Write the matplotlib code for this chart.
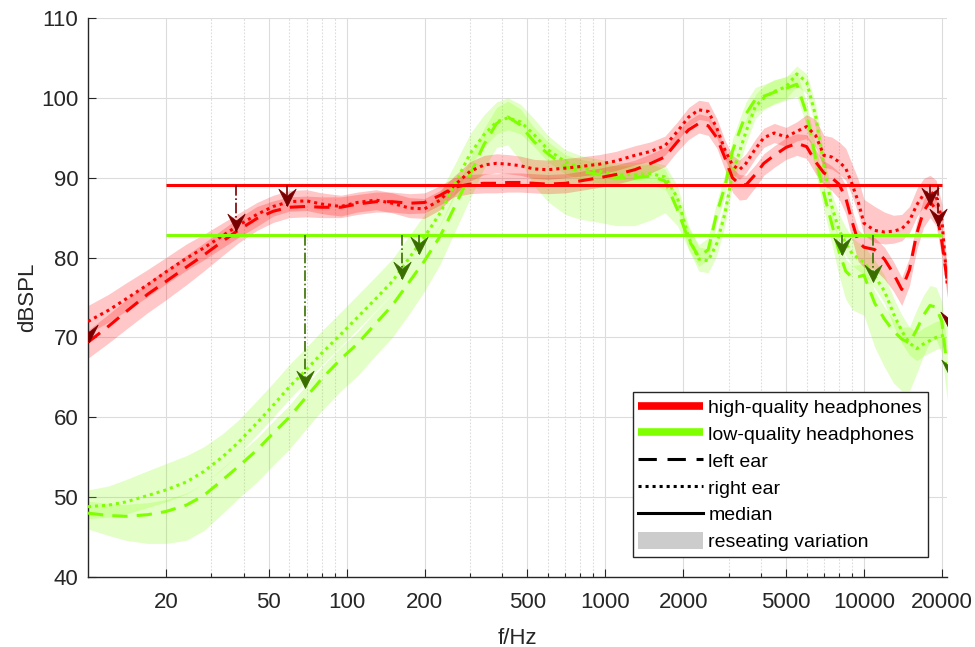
import numpy as np
import matplotlib
matplotlib.use("Agg")
import matplotlib.pyplot as plt
from matplotlib.lines import Line2D
from matplotlib.patches import Patch
from matplotlib.path import Path
from matplotlib.ticker import FixedLocator, NullFormatter

plt.rcParams['font.family'] = ['Liberation Sans', 'DejaVu Sans']

# ---------------- data ----------------
freq = [10, 12, 14, 17, 20, 24, 28, 33, 38, 45, 52, 60, 70, 80, 95,
        110, 130, 150, 175, 200, 230, 260, 300, 340, 380, 420, 470, 530, 600, 700,
        800, 950, 1100, 1300, 1500, 1700, 1900, 2100, 2300, 2500, 2700, 2900, 3100, 3300, 3500,
        3800, 4100, 4500, 5000, 5500, 6000, 6500, 7000, 7500, 8000, 8500, 9000, 9500, 10000, 11000,
        12000, 13000, 14000, 15000, 16000, 17000, 18000, 19000, 20000, 21000]

# high-quality headphones
hq_left = [69.4, 71.4, 73.2, 75.4, 77.0, 78.8, 80.3, 82.0, 83.4, 84.9, 85.8, 86.3, 86.4, 86.3, 86.3,
           86.7, 87.0, 87.0, 86.8, 86.9, 87.8, 88.8, 89.2, 89.3, 89.3, 89.4, 89.4, 89.3, 89.2, 89.3,
           89.6, 90.0, 90.4, 91.0, 91.8, 92.6, 94.5, 96.0, 96.8, 96.5, 95.0, 92.5, 90.0, 89.2, 89.1,
           90.4, 91.8, 92.8, 93.8, 94.3, 93.9, 92.0, 90.6, 90.0, 89.2, 87.5, 84.5, 82.0, 81.3, 81.0,
           79.8, 78.0, 76.0, 78.5, 83.0, 85.8, 87.0, 86.0, 82.0, 77.0]
hq_right = [72.0, 73.4, 74.8, 76.6, 78.2, 79.9, 81.2, 82.7, 84.0, 85.4, 86.4, 87.0, 87.1, 86.7, 86.4,
            86.9, 87.2, 86.8, 86.2, 86.1, 87.2, 89.0, 90.8, 91.6, 91.8, 91.7, 91.5, 91.1, 91.0, 91.2,
            91.4, 91.7, 92.1, 92.8, 93.3, 94.0, 95.8, 97.6, 98.5, 98.3, 96.2, 93.5, 91.6, 91.0, 91.8,
            93.6, 95.0, 95.6, 95.1, 95.8, 96.4, 95.3, 92.8, 92.6, 92.0, 91.2, 89.2, 87.0, 84.3, 83.4,
            83.2, 83.3, 83.6, 84.6, 86.6, 87.9, 88.3, 87.7, 84.8, 76.5]
# low-quality headphones
lq_left = [48.0, 47.7, 47.6, 47.8, 48.2, 49.0, 50.2, 52.1, 53.8, 55.9, 58.0, 60.0, 62.6, 64.8, 67.3,
           69.2, 71.8, 74.0, 77.0, 79.6, 82.7, 86.2, 90.4, 94.2, 96.8, 97.6, 96.6, 94.5, 93.0, 91.4,
           90.8, 90.4, 90.0, 90.0, 90.2, 89.6, 86.0, 82.2, 80.1, 81.0, 85.6, 88.9, 93.3, 95.8, 98.0,
           99.8, 100.2, 100.7, 101.2, 101.7, 98.0, 92.5, 88.0, 84.3, 80.8, 78.3, 77.5, 77.6, 77.8, 74.3,
           72.3, 70.8, 69.8, 69.3, 71.0, 72.8, 74.0, 73.8, 72.0, 66.0]
lq_right = [48.8, 49.0, 49.4, 50.2, 50.9, 51.9, 53.2, 55.0, 56.8, 59.3, 61.5, 63.8, 66.0, 68.0, 70.4,
            72.5, 74.9, 77.0, 80.0, 82.6, 85.6, 89.0, 93.0, 95.4, 97.0, 97.5, 97.0, 95.4, 93.5, 92.0,
            91.3, 90.8, 90.4, 90.4, 90.5, 90.1, 87.5, 82.5, 79.8, 79.6, 81.8, 85.5, 90.5, 93.2, 95.8,
            98.9, 100.0, 100.8, 101.4, 103.0, 102.0, 97.8, 91.4, 86.5, 83.5, 81.8, 80.5, 79.9, 79.4, 77.7,
            75.8, 73.0, 70.8, 69.3, 68.6, 69.2, 69.6, 70.0, 70.2, 70.4]

# reseating variation (dB below / above each curve)
hq_left_lo = [2.0, 2.1, 2.2, 2.3, 2.3, 2.2, 2.0, 1.8, 1.6, 1.5, 1.4, 1.3, 1.3, 1.3, 1.3,
              1.3, 1.3, 1.3, 1.3, 1.3, 1.2, 1.2, 1.2, 1.2, 1.2, 1.2, 1.2, 1.2, 1.2, 1.2,
              1.2, 1.2, 1.2, 1.2, 1.2, 1.2, 1.2, 1.2, 1.2, 1.2, 1.3, 1.5, 1.8, 2.0, 1.8,
              1.6, 1.5, 1.5, 1.5, 1.5, 1.5, 1.5, 1.5, 1.6, 1.8, 2.0, 2.2, 2.5, 2.5, 2.5,
              2.5, 2.2, 2.0, 2.0, 2.0, 2.0, 2.0, 2.0, 2.0, 2.0]
hq_left_hi = [1.5, 1.5, 1.5, 1.5, 1.5, 1.5, 1.5, 1.5, 1.5, 1.5, 1.3, 1.3, 1.3, 1.3, 1.3,
              1.2, 1.2, 1.2, 1.2, 1.2, 1.2, 1.2, 1.2, 1.2, 1.2, 1.2, 1.2, 1.2, 1.2, 1.2,
              1.2, 1.2, 1.2, 1.2, 1.2, 1.2, 1.2, 1.2, 1.2, 1.2, 1.2, 1.2, 1.2, 1.2, 1.2,
              1.2, 1.2, 1.2, 1.2, 1.2, 1.5, 1.5, 1.5, 1.5, 1.5, 1.5, 1.5, 1.5, 1.5, 1.5,
              1.5, 1.5, 1.5, 1.5, 1.5, 1.5, 1.5, 1.5, 1.5, 1.5]
hq_right_lo = [1.5, 1.5, 1.5, 1.5, 1.5, 1.5, 1.5, 1.5, 1.5, 1.5, 1.2, 1.2, 1.2, 1.2, 1.2,
               1.2, 1.2, 1.2, 1.2, 1.2, 1.2, 1.2, 1.2, 1.2, 1.2, 1.2, 1.2, 1.2, 1.2, 1.2,
               1.2, 1.2, 1.2, 1.2, 1.2, 1.2, 1.2, 1.2, 1.2, 1.2, 1.2, 1.2, 1.2, 1.2, 1.2,
               1.2, 1.2, 1.2, 1.2, 1.2, 1.5, 1.5, 1.5, 1.5, 1.5, 1.5, 1.5, 1.5, 1.5, 1.5,
               1.5, 1.5, 1.5, 1.5, 1.5, 1.5, 1.5, 1.5, 1.5, 1.5]
hq_right_hi = [2.0, 2.0, 2.0, 1.9, 1.8, 1.8, 1.7, 1.6, 1.5, 1.5, 1.4, 1.4, 1.4, 1.4, 1.4,
               1.3, 1.3, 1.3, 1.3, 1.3, 1.2, 1.2, 1.2, 1.2, 1.2, 1.2, 1.2, 1.2, 1.2, 1.2,
               1.2, 1.2, 1.2, 1.2, 1.2, 1.2, 1.2, 1.2, 1.2, 1.2, 1.2, 1.2, 1.2, 1.2, 1.2,
               1.2, 1.2, 1.2, 1.2, 1.2, 1.5, 2.0, 2.5, 2.5, 2.5, 2.5, 2.5, 2.8, 3.0, 3.0,
               2.5, 2.0, 1.8, 1.8, 2.0, 2.0, 2.0, 2.0, 2.0, 2.0]
lq_left_lo = [2.0, 2.5, 3.0, 3.6, 4.0, 4.4, 4.4, 4.2, 4.0, 4.0, 4.0, 4.0, 4.0, 4.0, 4.0,
              4.0, 4.0, 4.0, 4.0, 3.8, 3.5, 3.2, 3.0, 3.0, 3.0, 3.5, 4.5, 5.5, 6.0, 6.0,
              6.0, 6.0, 6.0, 6.0, 5.5, 4.0, 2.0, 1.2, 1.2, 1.2, 1.2, 1.2, 1.2, 1.2, 1.2,
              1.5, 1.5, 1.5, 1.5, 1.5, 1.5, 1.8, 2.0, 2.5, 3.0, 3.5, 4.0, 4.5, 5.0, 5.5,
              6.0, 6.5, 6.5, 6.0, 5.5, 5.0, 4.5, 4.0, 4.0, 4.0]
lq_left_hi = [1.5, 1.5, 1.5, 1.5, 1.5, 1.5, 1.5, 1.5, 1.5, 1.5, 1.5, 1.5, 1.5, 1.5, 1.5,
              1.5, 1.5, 1.5, 1.5, 1.5, 1.5, 1.8, 2.0, 2.0, 2.0, 2.0, 2.0, 1.8, 1.5, 1.5,
              1.5, 1.5, 1.5, 1.5, 1.5, 1.5, 1.5, 1.5, 1.5, 1.5, 1.5, 1.5, 1.5, 1.5, 1.5,
              1.5, 1.5, 1.5, 1.5, 1.5, 1.5, 1.5, 1.5, 1.5, 1.5, 1.5, 1.5, 1.5, 1.5, 1.5,
              1.5, 1.5, 1.5, 2.0, 2.5, 2.5, 2.5, 2.5, 2.5, 2.5]
lq_right_lo = [1.5, 1.5, 1.5, 1.5, 1.5, 1.5, 1.5, 1.5, 1.5, 1.5, 1.5, 1.5, 1.5, 1.5, 1.5,
               1.5, 1.5, 1.5, 1.5, 1.5, 1.5, 1.5, 1.5, 1.5, 1.5, 1.5, 1.5, 1.5, 1.5, 1.5,
               1.5, 1.5, 1.5, 1.5, 1.5, 1.5, 1.5, 1.5, 1.5, 1.5, 1.5, 1.5, 1.5, 1.5, 1.5,
               1.5, 1.5, 1.5, 1.5, 1.5, 1.5, 1.5, 1.5, 1.5, 1.5, 1.5, 1.5, 1.5, 1.5, 1.5,
               1.5, 1.5, 1.5, 1.5, 1.5, 1.5, 1.5, 1.5, 1.5, 1.5]
lq_right_hi = [2.1, 2.4, 2.8, 3.1, 3.3, 3.3, 3.1, 2.9, 2.8, 2.8, 2.8, 2.8, 2.8, 2.8, 2.8,
               2.8, 2.8, 2.8, 2.8, 2.8, 2.6, 2.5, 2.5, 2.5, 2.5, 2.5, 2.2, 2.0, 1.8, 1.5,
               1.5, 1.5, 1.5, 1.5, 1.5, 1.5, 1.5, 1.5, 1.5, 1.5, 1.5, 1.5, 1.5, 1.5, 1.5,
               1.5, 1.5, 1.5, 1.2, 1.0, 1.0, 1.5, 1.5, 1.5, 2.0, 2.0, 2.0, 2.0, 2.0, 2.0,
               2.0, 2.0, 2.0, 2.0, 2.0, 2.0, 2.0, 2.0, 2.0, 2.0]

# medians (from 20 Hz to 20 kHz)
median_range = [20, 20000]
hq_median = 89.1
lq_median = 82.8

# arrows: frequency, start level, end level
hq_arrow_f = [10.05, 37.3, 59.0, 18000, 19400, 21300]
hq_arrow_start = [69.5, 89.1, 89.1, 89.1, 89.1, 71.0]
hq_arrow_end = [69.4, 83.3, 86.5, 86.6, 84.0, 71.0]
lq_arrow_f = [68.8, 164, 191, 8200, 10800, 21600]
lq_arrow_start = [82.8, 82.8, 82.8, 82.8, 82.8, 65.0]
lq_arrow_end = [63.7, 77.3, 80.4, 80.3, 76.9, 65.0]

major_ticks = [20, 50, 100, 200, 500, 1000, 2000, 5000, 10000, 20000]
tick_labels = ['20', '50', '100', '200', '500', '1000', '2000', '5000', '10000', '20000']
minor_ticks = [30, 40, 60, 70, 80, 90, 300, 400, 600, 700, 800, 900,
               3000, 4000, 6000, 7000, 8000, 9000]
y_ticks = [40, 50, 60, 70, 80, 90, 100, 110]

# ---------------- style ----------------
RED = '#ff0000'
GREEN = '#80ff00'
DRED = '#7a0000'
DGREEN = '#3a6e00'
AX = '#262626'

fig = plt.figure(figsize=(9.75, 6.47), dpi=100)
ax = fig.add_axes([88 / 975, 70 / 647, (947.3 - 88) / 975, 559 / 647])
ax.set_xscale('log')
ax.set_xlim(10, 21000)
ax.set_ylim(40, 110)

F = np.array(freq)

def band(vals, lo, hi, color, alpha):
    v = np.array(vals)
    ax.fill_between(F, v - np.array(lo), v + np.array(hi), color=color, alpha=alpha, lw=0, zorder=2)

band(lq_left, lq_left_lo, lq_left_hi, GREEN, 0.22)
band(lq_right, lq_right_lo, lq_right_hi, GREEN, 0.22)
band(hq_left, hq_left_lo, hq_left_hi, RED, 0.22)
band(hq_right, hq_right_lo, hq_right_hi, RED, 0.22)

DASH = (5, 3)
DOT = (1, 1.3)
lw = 2.2
ax.plot(F, lq_left, color=GREEN, lw=lw, dashes=DASH, zorder=3)
ax.plot(F, lq_right, color=GREEN, lw=lw, dashes=DOT, zorder=3)
ax.plot(F, hq_left, color=RED, lw=lw, dashes=DASH, zorder=3)
ax.plot(F, hq_right, color=RED, lw=lw, dashes=DOT, zorder=3)

ax.plot(median_range, [hq_median, hq_median], color=RED, lw=2.2, zorder=4, solid_capstyle='butt')
ax.plot(median_range, [lq_median, lq_median], color=GREEN, lw=2.2, zorder=4, solid_capstyle='butt')

head = Path([(0, 0), (-0.5, 1.0), (0, 0.6), (0.5, 1.0), (0, 0)],
            [Path.MOVETO, Path.LINETO, Path.LINETO, Path.LINETO, Path.CLOSEPOLY])

def arrows(fs, y0s, y1s, color):
    for f, y0, y1 in zip(fs, y0s, y1s):
        if y0 != y1:
            ax.plot([f, f], [y0, y1], color=color, lw=1.2, ls='-.', zorder=5)
        ax.plot([f], [y1], marker=head, ms=25, color=color, mec=color, mew=0.5, zorder=6, ls='none')

arrows(hq_arrow_f, hq_arrow_start, hq_arrow_end, DRED)
arrows(lq_arrow_f, lq_arrow_start, lq_arrow_end, DGREEN)

# axes styling
for s in ['top', 'right']:
    ax.spines[s].set_visible(False)
for s in ['left', 'bottom']:
    ax.spines[s].set_color(AX)
    ax.spines[s].set_linewidth(1.0)

ax.xaxis.set_major_locator(FixedLocator(major_ticks))
ax.set_xticklabels(tick_labels)
ax.xaxis.set_minor_locator(FixedLocator(minor_ticks))
ax.xaxis.set_minor_formatter(NullFormatter())
ax.set_yticks(y_ticks)
ax.tick_params(axis='both', which='major', direction='in', length=6, width=0.8,
               color=AX, labelcolor=AX, labelsize=16)
ax.tick_params(axis='x', which='major', pad=10.5)
ax.tick_params(axis='y', which='major', pad=7)
ax.tick_params(axis='x', which='minor', direction='in', length=3, width=0.8, color=AX)

ax.grid(True, which='major', color='#dcdcdc', lw=0.8, zorder=0)
ax.grid(True, which='minor', axis='x', color='#dcdcdc', lw=0.8, ls=(0, (1.5, 1.5)), zorder=0)
ax.set_axisbelow(True)

ax.set_xlabel('f/Hz', fontsize=16, color=AX, labelpad=11)
ax.set_ylabel('dBSPL', fontsize=16, color=AX)
ax.yaxis.set_label_coords(-0.058, 0.5)

handles = [
    Line2D([], [], color=RED, lw=5.5, solid_capstyle='butt'),
    Line2D([], [], color=GREEN, lw=5.5, solid_capstyle='butt'),
    Line2D([], [], color='black', lw=2.2, dashes=(6, 3.5)),
    Line2D([], [], color='black', lw=2.2, dashes=DOT),
    Line2D([], [], color='black', lw=2.2),
    Patch(facecolor='#cccccc', edgecolor='none'),
]
labels = ['high-quality headphones', 'low-quality headphones', 'left ear', 'right ear',
          'median', 'reseating variation']
leg = ax.legend(handles, labels, loc='lower right', bbox_to_anchor=(0.9775, 0.0358),
                bbox_transform=ax.transAxes, borderaxespad=0, fontsize=14,
                handlelength=3.3, handleheight=1.0, handletextpad=0.3, labelspacing=0.38,
                borderpad=0.3, fancybox=False, framealpha=1, edgecolor=AX)
leg.get_frame().set_linewidth(1.0)
leg.set_zorder(10)

fig.savefig('out.png', dpi=100)
